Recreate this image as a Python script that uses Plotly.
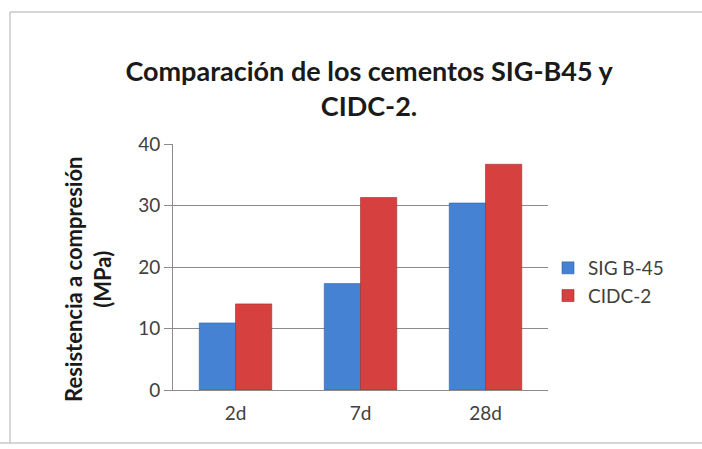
import plotly.graph_objects as go

categories = ["2d", "7d", "28d"]
sig_b45 = [10.9, 17.3, 30.4]
cidc_2 = [14.0, 31.3, 36.7]
series_names = ["SIG B-45", "CIDC-2"]
y_ticks = [0, 10, 20, 30, 40]

W, H = 702, 449
L, R, T, B = 173, 154, 144, 59
pw, ph = W - L - R, H - T - B

def px(x):
    return (x - L) / pw

def py(y):
    return (H - B - y) / ph

FONT = "Lato"

fig = go.Figure()
fig.add_trace(go.Bar(x=categories, y=sig_b45, name=series_names[0],
                     marker=dict(color="#4682d4", line=dict(color="#2f5f9f", width=0.6))))
fig.add_trace(go.Bar(x=categories, y=cidc_2, name=series_names[1],
                     marker=dict(color="#d6403e", line=dict(color="#9c2d2b", width=0.6))))

fig.update_layout(
    width=W, height=H,
    margin=dict(l=L, r=R, t=T, b=B, autoexpand=False),
    paper_bgcolor="white", plot_bgcolor="white",
    barmode="group", bargap=0.42, bargroupgap=0,
    font=dict(family=FONT, color="#404040"),
    title=dict(text="<b>Comparación de los cementos SIG-B45 y<br>CIDC-2.</b>",
               x=367 / W, xanchor="center", xref="paper",
               y=1 - 81 / H, yanchor="middle", yref="container",
               font=dict(family=FONT, size=27, color="#1a1a1a")),
    showlegend=True,
    legend=dict(x=px(548), y=py(282), xanchor="left", yanchor="middle",
                font=dict(family=FONT, size=19, color="#404040"),
                tracegroupgap=6, itemwidth=30, bgcolor="rgba(0,0,0,0)"),
    xaxis=dict(showgrid=False, showline=True, linecolor="#8c8c8c", linewidth=1,
               ticks="", tickfont=dict(family=FONT, size=19, color="#404040"),
               ticklabelstandoff=6),
    yaxis=dict(range=[0, 40], tickvals=y_ticks, showgrid=True, gridcolor="#8c8c8c",
               gridwidth=1, showline=True, linecolor="#8c8c8c", linewidth=1,
               ticks="outside", ticklen=8, tickcolor="#8c8c8c", zeroline=False,
               tickfont=dict(family=FONT, size=19, color="#404040")),
)

# y-axis title as a rotated annotation (placed like the original)
fig.add_annotation(text="<b>Resistencia a compresión<br>(MPa)</b>", textangle=-90,
                   xref="paper", yref="paper", x=px(88), y=py(280),
                   xanchor="center", yanchor="middle", showarrow=False,
                   font=dict(family=FONT, size=22, color="#1a1a1a"))

# outer chart frame
frame = dict(color="#c8c8c8", width=1.5)
fig.add_shape(type="line", xref="paper", yref="paper", x0=px(10), x1=px(702), y0=py(12), y1=py(12), line=frame)
fig.add_shape(type="line", xref="paper", yref="paper", x0=px(10), x1=px(10), y0=py(12), y1=py(443), line=frame)
fig.add_shape(type="line", xref="paper", yref="paper", x0=px(0), x1=px(702), y0=py(443), y1=py(443), line=frame)

fig.write_html("out.html", config={"displayModeBar": False},
               post_script="document.body.style.margin='0';document.body.style.overflow='hidden';")
